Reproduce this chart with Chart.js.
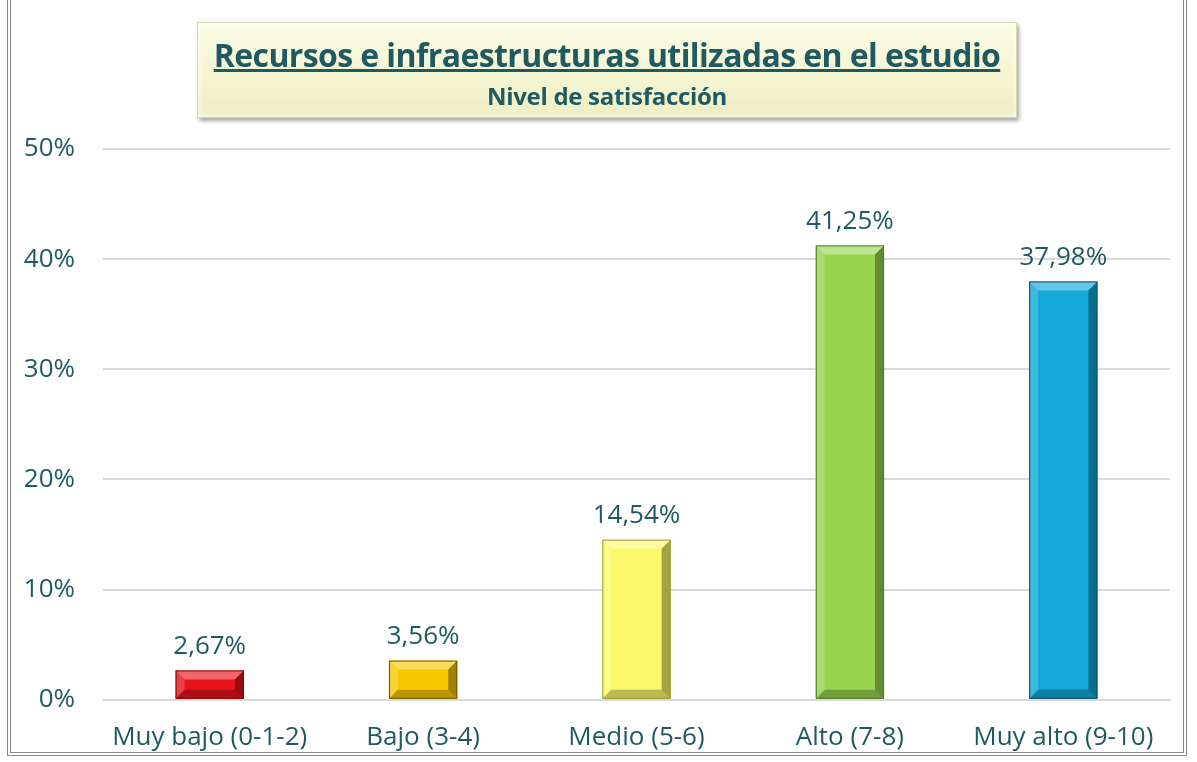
<!DOCTYPE html>
<html>
<head>
<meta charset="utf-8">
<script src="https://cdn.jsdelivr.net/npm/chart.js@4.4.0/dist/chart.umd.min.js"></script>
<style>
    html, body { margin: 0; padding: 0; background: #fff; }
    #wrap { position: relative; width: 1197px; height: 762px; overflow: hidden; }
    #frame {
        position: absolute; left: 7px; top: -4px; width: 1180px; height: 760px;
        border: 4px double #8a8a8a; box-sizing: border-box;
    }
    #title-box {
        position: absolute; left: 197px; top: 22px; width: 818px; height: 94px;
        background: linear-gradient(to bottom, #fbfbe6 0%, #f5f5d2 55%, #eeeec4 100%);
        box-shadow: 2px 3px 4px rgba(0,0,0,0.35), inset 0 0 6px rgba(255,255,255,0.9);
        border: 1px solid #d8d8b0;
        text-align: center; font-family: "Open Sans", sans-serif; color: #1f5a63;
    }
    #title-box .t1 { font-size: 32px; font-weight: bold; text-decoration: underline; margin-top: 13px; line-height: 38px; letter-spacing: -0.6px; }
    #title-box .t2 { font-size: 24px; font-weight: bold; margin-top: 7px; line-height: 30px; letter-spacing: -0.3px; }
    canvas { position: absolute; left: 0; top: 0; }
</style>
</head>
<body>
<div id="wrap">
    <canvas id="chart" width="1197" height="762"></canvas>
    <div id="frame"></div>
    <div id="title-box">
        <div class="t1">Recursos e infraestructuras utilizadas en el estudio</div>
        <div class="t2">Nivel de satisfacción</div>
    </div>
</div>
<script>
// Chart data
const categories = ['Muy bajo (0-1-2)', 'Bajo (3-4)', 'Medio (5-6)', 'Alto (7-8)', 'Muy alto (9-10)'];
const values = [2.67, 3.56, 14.54, 41.25, 37.98];
const barColors = ['#e8141b', '#f7c800', '#fbf96a', '#98d450', '#12a8d8'];
const barEdges = ['#7a0000', '#6e5600', '#9a9a30', '#4c7a20', '#0a4f6a'];
const yTicks = [0, 10, 20, 30, 40, 50];

const TEXT = '#1f5a63';
const FONT = '"Open Sans", sans-serif';

// Bevel look on top of each bar
const bevelPlugin = {
    id: 'bevel',
    afterDatasetsDraw(chart) {
        const ctx = chart.ctx;
        const meta = chart.getDatasetMeta(0);
        meta.data.forEach((bar, i) => {
            const left = bar.x - bar.width / 2;
            const right = bar.x + bar.width / 2;
            const top = bar.y;
            const bottom = bar.base;
            const b = Math.min(9, (bottom - top) / 2);
            ctx.save();
            // light top
            ctx.fillStyle = 'rgba(255,255,255,0.35)';
            ctx.beginPath();
            ctx.moveTo(left, top); ctx.lineTo(right, top);
            ctx.lineTo(right - b, top + b); ctx.lineTo(left + b, top + b);
            ctx.closePath(); ctx.fill();
            // light left
            ctx.fillStyle = 'rgba(255,255,255,0.18)';
            ctx.beginPath();
            ctx.moveTo(left, top); ctx.lineTo(left + b, top + b);
            ctx.lineTo(left + b, bottom - b); ctx.lineTo(left, bottom);
            ctx.closePath(); ctx.fill();
            // dark right
            ctx.fillStyle = 'rgba(0,0,0,0.35)';
            ctx.beginPath();
            ctx.moveTo(right, top); ctx.lineTo(right - b, top + b);
            ctx.lineTo(right - b, bottom - b); ctx.lineTo(right, bottom);
            ctx.closePath(); ctx.fill();
            // dark bottom
            ctx.fillStyle = 'rgba(0,0,0,0.25)';
            ctx.beginPath();
            ctx.moveTo(left, bottom); ctx.lineTo(left + b, bottom - b);
            ctx.lineTo(right - b, bottom - b); ctx.lineTo(right, bottom);
            ctx.closePath(); ctx.fill();
            ctx.strokeStyle = barEdges[i];
            ctx.lineWidth = 1;
            ctx.strokeRect(left + 0.5, top + 0.5, bar.width - 1, bottom - top - 1);
            ctx.restore();
        });
    }
};

// Value labels above bars
const labelPlugin = {
    id: 'valueLabels',
    afterDatasetsDraw(chart) {
        const ctx = chart.ctx;
        const meta = chart.getDatasetMeta(0);
        ctx.save();
        ctx.font = '26px ' + FONT;
        ctx.fillStyle = TEXT;
        ctx.textAlign = 'center';
        ctx.textBaseline = 'bottom';
        meta.data.forEach((bar, i) => {
            const txt = values[i].toFixed(2).replace('.', ',') + '%';
            ctx.fillText(txt, bar.x, bar.y - 11);
        });
        ctx.restore();
    }
};

const chart = new Chart(document.getElementById('chart').getContext('2d'), {
    type: 'bar',
    data: {
        labels: categories,
        datasets: [{
            data: values,
            backgroundColor: barColors,
            borderWidth: 0,
            barPercentage: 0.32,
            categoryPercentage: 1.0
        }]
    },
    options: {
        responsive: false,
        animation: false,
        layout: { padding: { top: 149, right: 27, bottom: -5, left: 24 } },
        plugins: {
            legend: { display: false },
            tooltip: { enabled: false }
        },
        scales: {
            x: {
                grid: { display: false },
                border: { color: '#d9d9d9', width: 2 },
                ticks: {
                    color: TEXT,
                    font: { family: FONT, size: 26 },
                    padding: 14,
                    maxRotation: 0
                }
            },
            y: {
                min: 0,
                max: 50,
                afterBuildTicks(axis) {
                    axis.ticks = yTicks.map(v => ({ value: v }));
                },
                afterFit(scale) {
                    scale.width = 79;
                },
                grid: { color: '#d9d9d9', lineWidth: 2, drawTicks: false },
                border: { display: false },
                ticks: {
                    color: TEXT,
                    font: { family: FONT, size: 26 },
                    padding: 28,
                    callback: v => v + '%'
                }
            }
        }
    },
    plugins: [bevelPlugin, labelPlugin]
});
</script>
</body>
</html>
